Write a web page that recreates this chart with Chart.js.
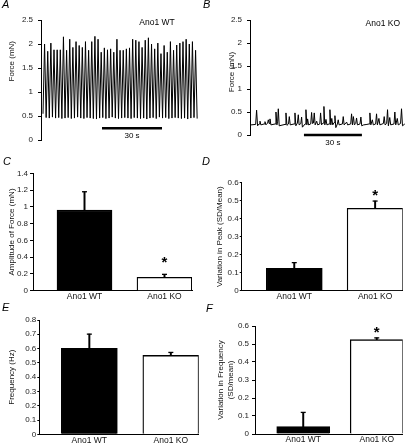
<!DOCTYPE html>
<html><head><meta charset="utf-8">
<script src="https://cdn.jsdelivr.net/npm/chart.js@4.4.0/dist/chart.umd.min.js"></script>
<style>
html,body{margin:0;padding:0;background:#fff;}
#fig{position:relative;width:408px;height:443px;overflow:hidden;font-family:"Liberation Sans",Arial,sans-serif;}
.pl{position:absolute;font-style:italic;font-size:11px;line-height:11px;color:#000;}
canvas{position:absolute;}
</style></head><body>
<div id="fig">
 <canvas id="cA" width="204" height="150" style="left:0;top:0"></canvas>
 <canvas id="cB" width="204" height="150" style="left:204px;top:0"></canvas>
 <canvas id="cC" width="204" height="150" style="left:0;top:150px"></canvas>
 <canvas id="cD" width="204" height="150" style="left:204px;top:150px"></canvas>
 <canvas id="cE" width="204" height="143" style="left:0;top:300px"></canvas>
 <canvas id="cF" width="204" height="143" style="left:204px;top:300px"></canvas>
 <div class="pl" style="left:2px;top:-1px">A</div>
 <div class="pl" style="left:203px;top:-1px">B</div>
 <div class="pl" style="left:3px;top:156px">C</div>
 <div class="pl" style="left:202px;top:156px">D</div>
 <div class="pl" style="left:2px;top:302px">E</div>
 <div class="pl" style="left:206px;top:303px">F</div>
</div>
<script>
// ---------- data ----------
const categories = ['Ano1 WT', 'Ano1 KO'];

// A: Ano1 WT force trace (mN): peak and trough of each contraction
const aPeaks = [2.0,1.85,2.02,1.88,1.88,1.88,2.15,1.87,2.1,1.93,2.05,1.97,1.93,2.05,1.87,2.05,2.16,2.1,1.83,1.92,1.88,1.9,1.83,2.1,1.87,1.87,1.9,1.92,2.1,2.08,2.05,1.93,2.08,2.13,2.0,1.9,2.02,1.8,1.97,1.83,2.05,1.87,1.98,2.02,2.05,2.1,2.0,2.05,1.87];
const aTroughs = [0.55,0.47,0.46,0.48,0.46,0.47,0.45,0.46,0.47,0.45,0.46,0.48,0.46,0.45,0.47,0.46,0.45,0.44,0.46,0.47,0.45,0.46,0.48,0.46,0.45,0.46,0.47,0.46,0.45,0.47,0.46,0.45,0.46,0.44,0.46,0.47,0.45,0.48,0.46,0.47,0.45,0.46,0.47,0.46,0.45,0.46,0.44,0.46,0.47,0.45];
const aCycle = 1.573;              // seconds per contraction
const aScaleBarT = [29.5, 59.5];   // 30 s scale bar
const aScaleBarF = 0.25;
const forceTicks = [0, 0.5, 1, 1.5, 2, 2.5];

// B: Ano1 KO force trace
const bTime = [0,2.4,2.9,3.4,4.2,4.65,5.1,6.8,7.24,7.7,8.6,8.96,9.4,9.82,10.3,12.5,12.92,13.4,13.8,14.13,14.6,17.6,18.09,18.6,19.4,19.82,20.3,22.3,22.75,23.2,24.0,24.47,24.9,25.8,26.19,26.6,28.0,28.43,28.9,29.3,29.8,30.9,31.36,31.8,32.3,32.74,33.2,34.0,34.5,35.6,36.01,36.5,37.3,37.74,38.2,38.8,39.3,40.4,40.84,41.3,41.8,42.3,43.0,43.43,43.9,44.7,45.15,45.6,47.3,47.74,48.2,49.5,50.0,51.6,52.05,52.5,53.0,53.5,54.2,54.63,55.1,56.4,56.87,57.3,58.3,60.0,61.1,61.53,62.0,62.8,63.3,64.5,64.97,65.4,66.2,66.7,68.5,68.94,69.4,70.2,70.66,71.1,71.8,72.3,74.0,74.45,74.9,75.7,76.2,77.4,77.9,78.4,79.6];
const bForce = [0.22,0.23,0.54,0.2,0.24,0.30,0.22,0.24,0.29,0.22,0.26,0.33,0.25,0.35,0.22,0.24,0.5,0.22,0.3,0.57,0.2,0.23,0.48,0.21,0.24,0.4,0.22,0.24,0.48,0.2,0.26,0.44,0.22,0.25,0.39,0.17,0.24,0.55,0.22,0.35,0.22,0.24,0.49,0.25,0.26,0.48,0.22,0.3,0.22,0.24,0.48,0.22,0.26,0.62,0.22,0.34,0.22,0.24,0.55,0.22,0.36,0.22,0.27,0.42,0.16,0.24,0.33,0.22,0.24,0.4,0.22,0.28,0.22,0.24,0.46,0.22,0.4,0.22,0.25,0.37,0.22,0.24,0.39,0.2,0.22,0.23,0.24,0.48,0.22,0.33,0.22,0.24,0.46,0.22,0.36,0.22,0.25,0.4,0.22,0.25,0.55,0.2,0.38,0.22,0.24,0.5,0.22,0.36,0.22,0.25,0.57,0.2,0.24];
const bScaleBarT = [27.4, 57.4];
const bScaleBarF = 0;

// C: amplitude of force (mN)
const ampMean = [0.96, 0.16];
const ampSem  = [0.22, 0.035];
const ampStar = [null, 0.38];
const ampTicks = [0, 0.2, 0.4, 0.6, 0.8, 1, 1.2, 1.4];

// D: variation in peak (SD/Mean)
const peakMean = [0.124, 0.458];
const peakSem  = [0.032, 0.04];
const peakStar = [null, 0.548];
const peakTicks = [0, 0.1, 0.2, 0.3, 0.4, 0.5, 0.6];

// E: frequency (Hz)
const freqMean = [0.601, 0.552];
const freqSem  = [0.1, 0.021];
const freqStar = [null, null];
const freqTicks = [0, 0.1, 0.2, 0.3, 0.4, 0.5, 0.6, 0.7, 0.8];

// F: variation in frequency (SD/mean)
const fvarMean = [0.041, 0.524];
const fvarSem  = [0.079, 0.01];
const fvarStar = [null, 0.584];
const fvarTicks = [0, 0.1, 0.2, 0.3, 0.4, 0.5, 0.6];

// ---------- helpers ----------
Chart.defaults.font.family = '"Liberation Sans", Arial, sans-serif';
Chart.defaults.color = '#222';
const NB = '\u00a0';

function marks(items) {
  return { id: 'marks', afterDatasetsDraw(chart) {
    const ctx = chart.ctx, x = chart.scales.x, y = chart.scales.y;
    ctx.save();
    for (const it of items) {
      ctx.font = it.font; ctx.fillStyle = '#000';
      ctx.textAlign = 'center'; ctx.textBaseline = 'middle';
      ctx.fillText(it.text, x.getPixelForValue(it.x) + (it.dx || 0), y.getPixelForValue(it.y) + (it.dy || 0));
    }
    ctx.restore();
  }};
}

function yAxis(o) {
  return {
    min: 0, max: o.ticks[o.ticks.length - 1],
    afterBuildTicks: s => { s.ticks = o.ticks.map(v => ({ value: v })); },
    afterFit: s => { s.width = o.yW; },
    grid: { drawOnChartArea: false, drawTicks: true, tickLength: o.tickLen, color: '#000', lineWidth: 1 },
    border: { display: true, color: '#000', width: 1 },
    ticks: { callback: v => String(v), padding: o.tickPad, font: { size: 8 }, color: '#222', autoSkip: false },
    title: { display: true, text: o.title, font: { size: 8, lineHeight: 1.25 }, color: '#111', padding: { top: o.titlePad, bottom: 0 } }
  };
}

function tracePanel(id, o) {
  return new Chart(document.getElementById(id), {
    type: 'line',
    data: { datasets: [
      { data: o.trace, borderColor: '#000', borderWidth: 1, pointRadius: 0, tension: 0 },
      { data: o.bar, borderColor: '#000', borderWidth: 2.5, pointRadius: 0, clip: false }
    ]},
    options: {
      responsive: false, animation: false, events: [],
      layout: { padding: o.pad },
      plugins: { legend: { display: false }, tooltip: { enabled: false } },
      scales: {
        x: { type: 'linear', display: false, min: o.xMin, max: o.xMax },
        y: yAxis(o)
      }
    },
    plugins: [marks(o.items)]
  });
}

function barPanel(id, o) {
  const xs = [1, 2];
  const items = [];
  o.star.forEach((s, i) => { if (s !== null) items.push({ text: '*', x: xs[i], y: s, dy: 4, font: 'bold 15px "Liberation Sans", Arial' }); });
  return new Chart(document.getElementById(id), {
    type: 'bar',
    data: { datasets: [
      { type: 'line', data: o.mean.map((m, i) => ({ x: xs[i], y: m + o.sem[i] })), showLine: false,
        pointStyle: 'line', pointRadius: 2.5, pointBorderWidth: 1.3, pointBorderColor: '#000', borderColor: '#000', order: 0, clip: false },
      { data: o.mean.map((m, i) => ({ x: xs[i], y: [m, m + o.sem[i]] })), backgroundColor: '#000',
        barThickness: 1.3, grouped: false, order: 1, borderSkipped: false },
      { data: o.mean.map((m, i) => ({ x: xs[i], y: m })), backgroundColor: ['#000', '#fff'], borderColor: '#000',
        borderWidth: 1.3, barThickness: o.barW, grouped: false, order: 2 }
    ]},
    options: {
      responsive: false, animation: false, events: [],
      layout: { padding: o.pad },
      plugins: { legend: { display: false }, tooltip: { enabled: false } },
      scales: {
        x: { type: 'linear', min: o.xMin, max: o.xMax, offset: false,
             afterBuildTicks: s => { s.ticks = xs.map(v => ({ value: v })); },
             afterFit: s => { s.height = o.xH; },
             grid: { display: false, drawTicks: false },
             border: { display: true, color: '#000', width: 1 },
             ticks: { callback: v => categories[v - 1], padding: o.xPad, font: { size: 8.5 }, color: '#111', maxRotation: 0, autoSkip: false } },
        y: yAxis(o)
      }
    },
    plugins: [marks(items)]
  });
}

// ---------- panels ----------
const aTrace = [];
aTroughs.forEach((v, k) => {
  aTrace.push({ x: k * aCycle, y: v });
  if (k < aPeaks.length) aTrace.push({ x: (k + 0.5) * aCycle, y: aPeaks[k] });
});
tracePanel('cA', {
  trace: aTrace,
  bar: aScaleBarT.map(t => ({ x: t, y: aScaleBarF })),
  xMin: -1, xMax: 78, pad: { top: 20, right: 5, bottom: 8, left: 0 },
  ticks: forceTicks, yW: 41, tickLen: 3, tickPad: 5,
  title: NB.repeat(17) + 'Force (mN)', titlePad: 7,
  items: [
    { text: 'Ano1 WT', x: 57, y: 2.44, font: '8.5px "Liberation Sans", Arial' },
    { text: '30 s', x: (aScaleBarT[0] + aScaleBarT[1]) / 2, y: aScaleBarF, dy: 8, font: '8px "Liberation Sans", Arial' }
  ]
});

tracePanel('cB', {
  trace: bTime.map((t, i) => ({ x: t, y: bForce[i] })),
  bar: bScaleBarT.map(t => ({ x: t, y: bScaleBarF })),
  xMin: -0.52, xMax: 79.7, pad: { top: 20, right: 3, bottom: 15, left: 0 },
  ticks: forceTicks, yW: 46, tickLen: 3, tickPad: 5,
  title: NB.repeat(5) + 'Force (mN)', titlePad: 23,
  items: [
    { text: 'Ano1 KO', x: 68.2, y: 2.43, font: '8.5px "Liberation Sans", Arial' },
    { text: '30 s', x: (bScaleBarT[0] + bScaleBarT[1]) / 2, y: bScaleBarF, dy: 8, font: '8px "Liberation Sans", Arial' }
  ]
});

barPanel('cC', {
  mean: ampMean, sem: ampSem, star: ampStar, ticks: ampTicks,
  xMin: 0.356, xMax: 2.344, barW: 55, xH: 9.3, xPad: 1,
  pad: { top: 23.3, right: 12, bottom: 0, left: 0 },
  yW: 33, tickLen: 3, tickPad: 2, title: 'Amplitude of Force (mN)', titlePad: 7
});

barPanel('cD', {
  mean: peakMean, sem: peakSem, star: peakStar, ticks: peakTicks,
  xMin: 0.35, xMax: 2.341, barW: 56, xH: 9.3, xPad: 1,
  pad: { top: 32.7, right: 4, bottom: 0, left: 0 },
  yW: 37.7, tickLen: 2, tickPad: 1, title: 'Variation in Peak (SD/Mean)', titlePad: 11
});

barPanel('cE', {
  mean: freqMean, sem: freqSem, star: freqStar, ticks: freqTicks,
  xMin: 0.386, xMax: 2.342, barW: 56, xH: 8.7, xPad: 1,
  pad: { top: 20, right: 4.7, bottom: 0, left: 0 },
  yW: 39.3, tickLen: 2, tickPad: 1, title: 'Frequency (Hz)', titlePad: 7
});

barPanel('cF', {
  mean: fvarMean, sem: fvarSem, star: fvarStar, ticks: fvarTicks,
  xMin: 0.344, xMax: 2.353, barW: 53, xH: 9, xPad: 1,
  pad: { top: 26, right: 2.3, bottom: 0, left: 0 },
  yW: 51, tickLen: 3, tickPad: 3, title: ['Variation in Frequency', '(SD/mean)'], titlePad: 12
});
</script>
</body></html>
